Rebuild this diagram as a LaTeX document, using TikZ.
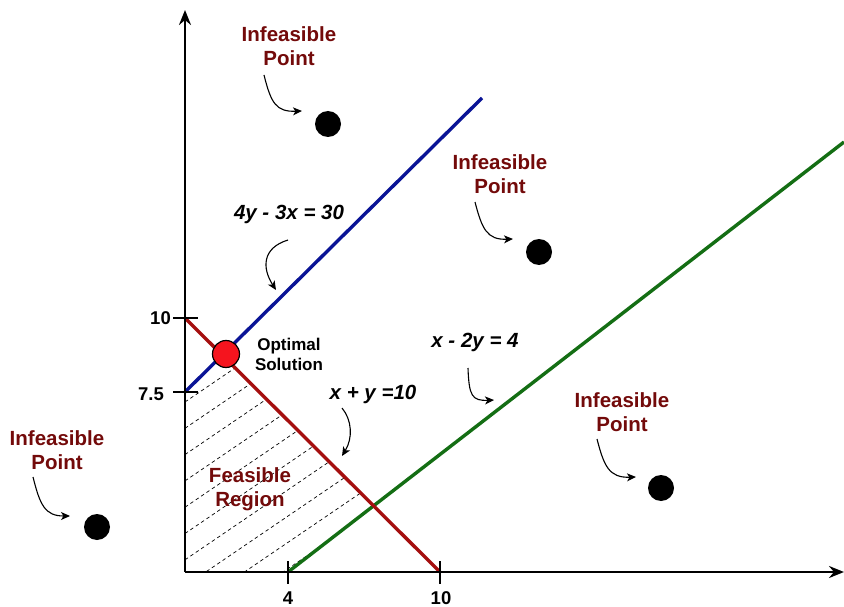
\documentclass[tikz,border=0pt]{standalone}
\usepackage{fontspec}
\setmainfont{Liberation Sans}
\usetikzlibrary{arrows.meta}
\definecolor{lblred}{RGB}{115,10,10}
\definecolor{linered}{RGB}{165,15,15}
\definecolor{lineblue}{RGB}{10,20,150}
\definecolor{linegreen}{RGB}{20,110,20}
\definecolor{dotred}{RGB}{245,20,30}
\begin{document}
\begin{tikzpicture}[x=1pt,y=-1pt,
  axisline/.style={line width=2.6pt,-{Stealth[length=15pt,width=12pt,inset=5pt]}},
  tickline/.style={line width=2.2pt},
  conline/.style={line width=3.4pt},
  hatchline/.style={line width=0.7pt,dash pattern=on 3.5pt off 3pt},
  pointer/.style={line width=1.1pt,-{Stealth[length=9pt,width=8pt,inset=2.5pt]}},
  infeas/.style={align=center,text=lblred,font={\fontsize{20.5}{24}\selectfont\bfseries},inner sep=0pt},
  eqlabel/.style={font={\fontsize{20.5}{24}\selectfont\bfseries\itshape},inner sep=0pt},
  numlabel/.style={font={\fontsize{18.5}{22}\selectfont\bfseries},inner sep=0pt},
  blackdot/.style={circle,fill=black,minimum size=26pt,inner sep=0pt},
  optdot/.style={circle,fill=dotred,draw=black,line width=1.2pt,minimum size=27pt,inner sep=0pt}
]
\useasboundingbox (0,0) rectangle (844,607);
% key coordinates
\coordinate (O) at (185,572);
\coordinate (ytop) at (185,10);
\coordinate (xend) at (844,572);
\coordinate (y10) at (185,318);
\coordinate (y75) at (185,392);
\coordinate (x4) at (288,572);
\coordinate (x10) at (440,572);
\coordinate (bluetop) at (482,98);
\coordinate (greentop) at (844,142);
\coordinate (optpt) at (223,355);
\coordinate (gr) at (373,506);
% hatching
\begin{scope}
  \clip (O) -- (x4) -- (gr) -- (optpt) -- (y75) -- cycle;
  \foreach \k in {0,...,14}{
    \draw[hatchline] (185,{402+26.3*\k}) -- (500,{402+26.3*\k-0.68*315});
  }
\end{scope}
% constraint lines
\draw[conline,lineblue] (y75) -- (bluetop);
\draw[conline,linegreen] (x4) -- (greentop);
\draw[conline,linered] (y10) -- (x10);
% axes
\draw[axisline] (O) -- (ytop);
\draw[axisline] (O) -- (xend);
% ticks
\draw[tickline] (173,318) -- (198,318);
\draw[tickline] (173,392) -- (198,392);
\draw[tickline] (288,561) -- (288,584);
\draw[tickline] (440,561) -- (440,584);
% tick labels
\node[numlabel,anchor=east] (ly10) at (171,318) {10};
\node[numlabel,anchor=east] (ly75) at (164,394) {7.5};
\node[numlabel] (lx4) at (288,598) {4};
\node[numlabel] (lx10) at (441,598) {10};
% optimal point
\node[optdot] (opt) at (226,354) {};
\node[align=center,font={\fontsize{17}{20}\selectfont\bfseries},inner sep=0pt] (optlbl) at (289,354) {Optimal\\Solution};
% feasible region label
\node[infeas] (feas) at (250,489) {Feasible\\Region};
% infeasible points
\node[infeas] (inf1) at (289,46) {Infeasible\\Point};
\node[blackdot] (dot1) at (328,124) {};
\coordinate (a1s) at (264,75);
\coordinate (a1e) at (302,111);
\draw[pointer] (a1s) .. controls (271,103) and (276,112) .. (a1e);

\node[infeas] (inf2) at (500,174) {Infeasible\\Point};
\node[blackdot] (dot2) at (539,252) {};
\coordinate (a2s) at (475,202);
\coordinate (a2e) at (513,239);
\draw[pointer] (a2s) .. controls (482,229) and (487,240) .. (a2e);

\node[infeas] (inf3) at (57,450) {Infeasible\\Point};
\node[blackdot] (dot3) at (97,527) {};
\coordinate (a3s) at (33,477);
\coordinate (a3e) at (70,516);
\draw[pointer] (a3s) .. controls (40,505) and (45,516) .. (a3e);

\node[infeas] (inf4) at (622,412) {Infeasible\\Point};
\node[blackdot] (dot4) at (661,488) {};
\coordinate (a4s) at (597,439);
\coordinate (a4e) at (636,477);
\draw[pointer] (a4s) .. controls (604,466) and (609,478) .. (a4e);

% equation labels
\node[eqlabel] (eqblue) at (289,214) {4y - 3x = 30};
\coordinate (b1s) at (288,240);
\coordinate (b1e) at (276,290);
\draw[pointer] (b1s) .. controls (262,248) and (262,268) .. (b1e);

\node[eqlabel] (eqgreen) at (475,342) {x - 2y = 4};
\coordinate (b2s) at (468,368);
\coordinate (b2e) at (494,400);
\draw[pointer] (b2s) .. controls (469,396) and (472,401) .. (b2e);

\node[eqlabel] (eqred) at (373,394) {x + y =10};
\coordinate (b3s) at (342,408);
\coordinate (b3e) at (342,456);
\draw[pointer] (b3s) .. controls (352,420) and (353,438) .. (b3e);
\end{tikzpicture}
\end{document}
